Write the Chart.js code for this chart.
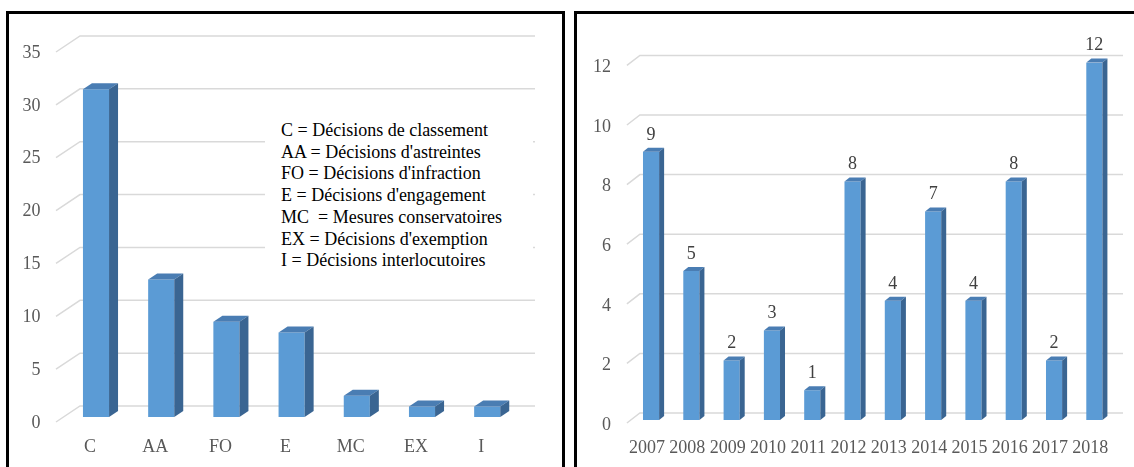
<!DOCTYPE html>
<html>
<head>
<meta charset="utf-8">
<script src="https://cdn.jsdelivr.net/npm/chart.js@4/dist/chart.umd.min.js"></script>
<style>
  html, body { margin:0; padding:0; background:#fff; }
  body { width:1134px; height:467px; position:relative; overflow:hidden; }
  .panel { position:absolute; box-sizing:border-box; border:3px solid #000; background:#fff; }
  #p1 { left:6px; top:11px; width:559px; height:520px; }
  #p2 { left:574px; top:11px; width:600px; height:520px; }
  .cw { position:absolute; top:0; height:467px; z-index:2; }
  #w1 { left:0; width:570px; }
  #w2 { left:570px; width:564px; }
  #legendBox { position:absolute; left:265px; top:112px; width:268px; height:160px; background:#fff; z-index:3;
    font-family:'Liberation Serif', Tinos, 'Times New Roman', Times, 'DejaVu Serif', serif; font-size:18px; line-height:21.7px; color:#000;
    box-sizing:border-box; padding-left:16px; padding-top:8px; white-space:pre; }
</style>
</head>
<body>
<div class="panel" id="p1"></div>
<div class="panel" id="p2"></div>
<div class="cw" id="w1"><canvas id="c1"></canvas></div>
<div class="cw" id="w2"><canvas id="c2"></canvas></div>
<div id="legendBox"></div>
<script>
// ---- data ----
const decisionCategories = ['C', 'AA', 'FO', 'E', 'MC', 'EX', 'I'];
const decisionCounts = [31, 13, 9, 8, 2, 1, 1];
const legendLines = [
  'C = Décisions de classement',
  'AA = Décisions d\'astreintes',
  'FO = Décisions d\'infraction',
  'E = Décisions d\'engagement',
  'MC  = Mesures conservatoires',
  'EX = Décisions d\'exemption',
  'I = Décisions interlocutoires'
];
const years = ['2007','2008','2009','2010','2011','2012','2013','2014','2015','2016','2017','2018'];
const yearCounts = [9, 5, 2, 3, 1, 8, 4, 7, 4, 8, 2, 12];

document.getElementById('legendBox').textContent = legendLines.join('\n');

const FONT = "'Liberation Serif', Tinos, 'Times New Roman', Times, 'DejaVu Serif', serif";
const FRONT = '#5B9BD5', TOP = '#4A7DB3', SIDE = '#3A6592';

const faux3d = {
  id: 'faux3d',
  beforeDatasetsDraw(chart, args, o) {
    const ys = chart.scales.y, ca = chart.chartArea, ctx = chart.ctx;
    ctx.save();
    ctx.strokeStyle = '#D9D9D9';
    ctx.lineWidth = 1.5;
    ys.ticks.forEach(t => {
      const y = ys.getPixelForValue(t.value);
      ctx.beginPath();
      ctx.moveTo(ca.left + o.frontX, y + o.frontY);
      ctx.lineTo(ca.left + o.backX, y - o.backY);
      ctx.lineTo(o.gridRight, y - o.backY);
      ctx.stroke();
    });
    ctx.restore();
  },
  afterDatasetsDraw(chart, args, o) {
    const ctx = chart.ctx;
    const meta = chart.getDatasetMeta(0);
    const vals = chart.data.datasets[0].data;
    ctx.save();
    meta.data.forEach((bar, i) => {
      const p = bar.getProps(['x','y','base','width'], true);
      const l = p.x - p.width/2, r = p.x + p.width/2, dx = o.dx, dy = o.dy;
      ctx.fillStyle = TOP;
      ctx.beginPath();
      ctx.moveTo(l, p.y); ctx.lineTo(l+dx, p.y-dy); ctx.lineTo(r+dx, p.y-dy); ctx.lineTo(r, p.y); ctx.closePath();
      ctx.fill();
      ctx.fillStyle = SIDE;
      ctx.beginPath();
      ctx.moveTo(r, p.y); ctx.lineTo(r+dx, p.y-dy); ctx.lineTo(r+dx, p.base-dy); ctx.lineTo(r, p.base); ctx.closePath();
      ctx.fill();
      if (o.labels) {
        ctx.fillStyle = '#404040';
        ctx.font = '18px ' + FONT;
        ctx.textAlign = 'center';
        ctx.textBaseline = 'middle';
        ctx.fillText(String(vals[i]), p.x, p.y - 17);
      }
    });
    ctx.restore();
  }
};

function makeChart(id, labels, data, cfg) {
  return new Chart(document.getElementById(id), {
    type: 'bar',
    data: { labels, datasets: [{ data, backgroundColor: FRONT, borderWidth: 0,
      barPercentage: 0.4, categoryPercentage: 1.0 }] },
    plugins: [faux3d],
    options: {
      responsive: true, maintainAspectRatio: false, animation: false,
      layout: { padding: cfg.padding },
      plugins: { legend: { display: false }, tooltip: { enabled: false }, faux3d: cfg.f3d },
      scales: {
        x: {
          grid: { display: false, drawTicks: false, tickLength: 0 },
          border: { display: false },
          ticks: { font: { family: FONT, size: 18 }, color: '#595959', padding: cfg.xPad, labelOffset: cfg.xOff, maxRotation: 0, autoSkip: false },
          afterFit: s => { s.height = cfg.xHeight; }
        },
        y: {
          min: 0, max: cfg.max,
          grid: { display: false, drawTicks: false, tickLength: 0 },
          border: { display: false },
          ticks: { stepSize: cfg.step, font: { family: FONT, size: 18 }, color: '#595959', padding: cfg.yPad, labelOffset: cfg.yOff },
          afterFit: s => { s.width = cfg.yWidth; }
        }
      }
    }
  });
}

makeChart('c1', decisionCategories, decisionCounts, {
  padding: { left: 0, top: 47, right: 50.2, bottom: 0 },
  max: 35, step: 5, yWidth: 63.4, yPad: 23, yOff: 6, xPad: 19, xOff: -6, xHeight: 50,
  f3d: { frontX: -7.4, frontY: 5, backX: 16.6, backY: 11, gridRight: 535, dx: 9, dy: 6, labels: false }
});

makeChart('c2', years, yearCounts, {
  padding: { left: 0, top: 62.4, right: 19.5, bottom: 0 },
  max: 12, step: 2, yWidth: 60.9, yPad: 20, yOff: 5, xPad: 17, xOff: -4, xHeight: 47,
  f3d: { frontX: -4, frontY: 3, backX: 9, backY: 7, gridRight: 553, dx: 5, dy: 4, labels: true }
});
</script>
</body>
</html>
